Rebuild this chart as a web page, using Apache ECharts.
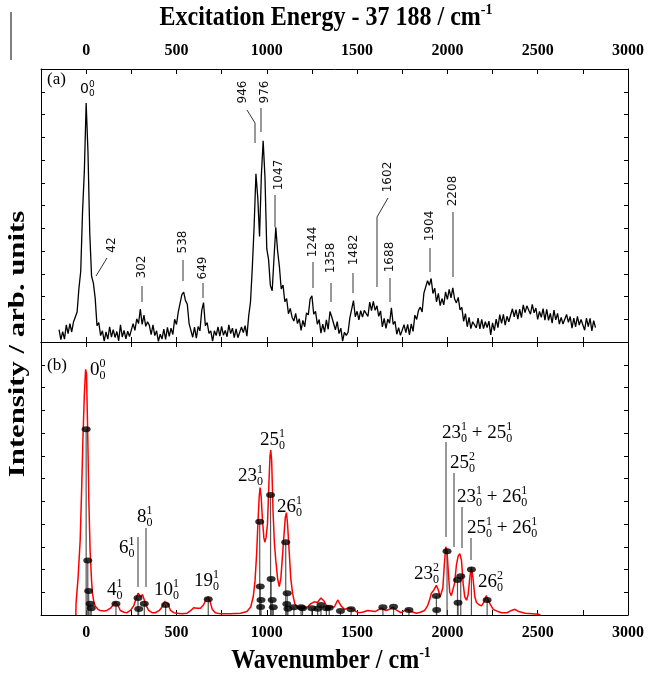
<!DOCTYPE html>
<html lang="en" style="height: 100%">
<head>
  <meta charset="utf-8">
</head>
<body style="height: 100%; margin: 0; background: #fff">
  <div id="container" style="width: 649px; height: 673px"></div>

  <script type="text/javascript" src="https://cdn.jsdelivr.net/npm/echarts@6/dist/echarts.min.js"></script>

  <script type="text/javascript">
    // (a) experimental REMPI spectrum, read every 10 cm-1 starting at -150
    var expStart = -150;
    var expStep = 10;
    var expInt = [
      5.4, 1.0, 4.6, 1.3, 7.5, 3.7, 8.1, 4.4, 8.8, 8.9,
      13.2, 23.6, 31.1, 57.2, 75.1, 105.0, 83.7, 47.8, 28.9, 25.9,
      19.3, 7.2, 8.5, 2.8, 4.9, 0.4, 4.4, 1.3, 6.7, 2.1,
      5.4, 2.0, 4.6, 0.5, 7.5, 2.2, 5.1, 1.4, 4.8, 2.4,
      3.2, 8.1, 5.1, 10.2, 8.1, 14.5, 7.7, 11.8, 6.9, 8.9,
      7.3, 3.2, 7.5, 2.8, 4.9, 0.3, 3.4, 1.3, 5.7, 1.1,
      6.4, 2.5, 6.1, 3.3, 10.0, 7.7, 13.1, 12.4, 20.8, 21.9,
      18.2, 16.6, 8.1, 8.2, 2.1, 6.5, 1.7, 6.8, 4.9, 13.9,
      17.3, 7.2, 8.5, 3.8, 4.9, 0.4, 4.9, 2.8, 6.7, 2.6,
      6.9, 3.0, 5.1, 2.3, 7.5, 3.7, 6.1, 1.9, 5.8, 1.9,
      2.7, 6.6, 4.1, 7.2, 2.6, 11.5, 17.7, 32.8, 50.9, 73.9,
      63.7, 46.4, 73.2, 88.4, 72.5, 41.0, 36.2, 24.8, 22.5, 36.9,
      50.4, 40.0, 33.1, 23.3, 25.0, 17.7, 19.1, 12.4, 14.8, 10.9,
      9.2, 12.6, 8.1, 10.2, 5.1, 9.5, 6.7, 12.8, 11.9, 18.9,
      20.3, 12.2, 13.5, 7.8, 9.9, 3.9, 7.9, 4.3, 9.7, 5.6,
      13.4, 11.0, 11.1, 5.3, 9.0, 3.7, 6.1, 0.4, 4.3, 2.9,
      4.2, 10.6, 10.1, 18.2, 11.1, 13.5, 9.7, 13.8, 10.9, 13.9,
      14.3, 11.2, 17.5, 13.8, 17.9, 13.9, 15.9, 11.3, 13.7, 6.6,
      10.4, 6.0, 10.1, 8.3, 15.0, 7.7, 9.1, 3.4, 6.3, 2.9,
      3.2, 7.6, 4.1, 7.7, 3.1, 8.0, 4.7, 11.8, 9.9, 13.9,
      15.3, 13.2, 21.5, 20.8, 26.9, 24.9, 27.9, 21.3, 23.7, 17.6,
      21.4, 16.0, 19.1, 16.3, 22.0, 18.7, 23.1, 19.4, 23.8, 18.9,
      17.2, 19.6, 14.1, 15.2, 9.1, 12.5, 6.7, 10.8, 5.9, 8.9,
      9.3, 6.2, 10.5, 5.8, 9.9, 5.9, 8.9, 6.3, 9.2, 3.1,
      8.4, 5.0, 10.1, 6.3, 12.0, 8.2, 12.1, 7.4, 11.3, 8.9,
      9.2, 14.6, 11.1, 14.2, 10.1, 14.5, 10.7, 16.3, 12.9, 15.9,
      16.3, 12.2, 16.5, 12.8, 14.9, 9.9, 13.4, 10.8, 14.7, 9.6,
      14.4, 9.5, 12.6, 8.3, 14.0, 9.7, 12.6, 7.9, 10.8, 7.9,
      8.2, 12.1, 8.6, 11.2, 6.1, 10.5, 6.7, 11.3, 7.4, 9.9,
      9.3, 5.2, 10.5, 6.8, 10.4, 4.9, 9.4, 6.3
    ];

    // (b) simulated spectrum: convolved envelope [wavenumber, intensity]
    var simCurve = [
      [-57, 0], [-56, 5], [-45, 16], [-33, 33], [-25, 55], [-18, 77], [-10, 97], [-3, 108],
      [2, 106], [9, 78], [15, 50], [22, 28], [30, 15], [35, 9.5], [42, 6], [50, 4], [65, 2.5],
      [78, 2], [100, 1.8], [115, 2], [135, 3], [150, 4.5], [160, 5.8], [167, 6], [175, 4.5],
      [189, 2], [210, 1.2], [226, 1], [245, 2], [263, 4], [278, 7.5], [287, 9.6], [295, 9],
      [303, 8], [312, 9], [320, 8.5], [333, 4], [346, 2], [365, 1], [383, 1], [405, 2],
      [420, 3.5], [435, 6], [443, 6.5], [452, 5], [467, 2], [485, 1], [504, 0.8], [530, 0.5],
      [559, 0.8], [580, 2], [595, 3.2], [605, 3.5], [615, 3], [633, 3], [650, 4.5], [665, 7],
      [676, 8], [686, 6], [698, 2.5], [715, 1], [744, 0.5], [800, 0.5], [855, 0.8], [890, 1.5],
      [911, 3.5], [925, 8], [935, 15], [944, 27], [952, 42], [958, 52], [963, 56], [969, 52],
      [976, 42], [984, 34], [989, 32], [996, 34], [1004, 40], [1012, 58], [1018, 70],
      [1022, 72.5], [1027, 68], [1035, 45], [1042, 32], [1050, 24], [1060, 16], [1069, 12.5],
      [1078, 16], [1087, 26], [1096, 36], [1103, 43], [1109, 45], [1115, 40], [1124, 28],
      [1133, 16], [1143, 9.5], [1155, 5], [1170, 3.5], [1189, 3], [1207, 3], [1225, 3.5],
      [1244, 5], [1263, 5.8], [1280, 5.5], [1300, 7.5], [1318, 6], [1328, 4.5], [1345, 3.5],
      [1374, 3.5], [1393, 6.6], [1411, 4], [1430, 2.5], [1450, 3], [1467, 3], [1485, 2],
      [1504, 1], [1530, 1.2], [1559, 2], [1600, 1.5], [1633, 3], [1660, 2], [1680, 2.5],
      [1698, 3.5], [1720, 2], [1744, 1], [1765, 2], [1781, 2.5], [1800, 1.5], [1828, 0.8],
      [1850, 1.2], [1874, 2], [1890, 4], [1903, 7], [1911, 9.5], [1925, 11], [1939, 13],
      [1950, 11], [1960, 8], [1967, 7.5], [1975, 12], [1983, 22], [1991, 30], [1998, 28],
      [2006, 18], [2013, 10], [2022, 8.5], [2031, 8], [2040, 14], [2050, 22], [2060, 26],
      [2069, 27], [2078, 24], [2087, 14], [2096, 8], [2106, 6.5], [2115, 9], [2125, 17],
      [2133, 21], [2142, 16], [2152, 8], [2161, 5.5], [2175, 4.5], [2189, 4], [2205, 6],
      [2215, 8.5], [2225, 8], [2235, 5], [2254, 2.5], [2280, 1.5], [2300, 1], [2330, 1],
      [2355, 2], [2374, 2.5], [2395, 1.5], [2430, 0.8], [2470, 0.6], [2504, 0.3], [2515, 0]
    ];

    // (b) stick spectrum [wavenumber, intensity]
    var sticks = [
      [0, 81.7], [9, 24], [14, 10.5], [22, 5], [28, 3], [165, 5], [287, 7.5], [291, 2.6],
      [322, 5], [440, 4.4], [676, 6.9], [961, 41], [964, 12.5], [968, 6.6], [966, 3.5],
      [1021, 52.7], [1024, 15.8], [1030, 6.6], [1036, 3.4], [1105, 32], [1113, 9.6],
      [1111, 4.8], [1117, 2.8], [1150, 3.4], [1190, 3.4], [1198, 3], [1250, 3], [1282, 2.8],
      [1300, 4.4], [1330, 3], [1346, 3.2], [1408, 1.8], [1467, 2.5], [1643, 3.4], [1702, 3.6],
      [1787, 2.2], [1939, 8.4], [1941, 2.2], [1998, 28], [2056, 15.4], [2059, 5.4],
      [2074, 17], [2133, 20], [2220, 6.6]
    ];

    var xTickLabels = [0, 500, 1000, 1500, 2000, 2500, 3000];
    var topTitle = '{t|Excitation Energy - 37 188 / cm}{s|-1}';
    var bottomTitle = '{t|Wavenumber / cm}{s|-1}';
    var yTitle = 'Intensity / arb. units';

    // peak labels of (a): text, label centre, leader line
    var peakLabelsA = [
      ['42', 112, 245, [[107, 258], [96, 276]]],
      ['302', 142, 267, [[142, 286], [142, 302]]],
      ['538', 183, 242, [[183, 260], [183, 281]]],
      ['649', 203, 268, [[203, 283], [203, 298]]],
      ['946', 243, 92, [[247, 110], [255, 123], [255, 143]]],
      ['976', 265, 92, [[261, 108], [261, 132]]],
      ['1047', 279, 175, [[275, 195], [275, 227]]],
      ['1244', 313, 242, [[313, 262], [313, 288]]],
      ['1358', 331, 258, [[331, 283], [331, 302]]],
      ['1482', 354, 250, [[353, 273], [353, 293]]],
      ['1602', 388, 177, [[388, 198], [377, 217], [377, 287]]],
      ['1688', 390, 257, [[390, 278], [390, 302]]],
      ['1904', 430, 226, [[430, 248], [430, 272]]],
      ['2208', 453, 191, [[453, 212], [453, 277]]]
    ];

    // band assignments of (b): [base, sup, sub] parts, left, centre y
    var bandLabelsB = [
      [[['0', '0', '0']], 90, 370],
      [[['4', '1', '0']], 107, 590],
      [[['6', '1', '0']], 119, 548],
      [[['8', '1', '0']], 137, 517],
      [[['10', '1', '0']], 154, 590],
      [[['19', '1', '0']], 194, 581],
      [[['23', '1', '0']], 238, 476],
      [[['25', '1', '0']], 260, 440],
      [[['26', '1', '0']], 277, 507],
      [[['23', '1', '0'], [' + 25', '1', '0']], 442, 433],
      [[['25', '2', '0']], 450, 463],
      [[['23', '1', '0'], [' + 26', '1', '0']], 457, 497],
      [[['25', '1', '0'], [' + 26', '1', '0']], 467, 528],
      [[['23', '2', '0']], 414, 574],
      [[['26', '2', '0']], 478, 582]
    ];
    var leadersB = [
      [[138, 537], [138, 587]],
      [[146, 528], [146, 587]],
      [[446, 442], [446, 537]],
      [[454, 473], [454, 547]],
      [[462, 507], [462, 548]],
      [[471, 538], [471, 560]]
    ];

    var SERIF = "'Liberation Serif', 'Times New Roman', serif";
    var SANS = "'DejaVu Sans', Verdana, sans-serif";

    var expData = expInt.map(function (v, i) {
      return [expStart + i * expStep, v];
    });

    var meas = document.createElement('canvas').getContext('2d');
    function textW(str, font) {
      meas.font = font;
      return meas.measureText(str).width;
    }

    // base text followed by stacked superscript / subscript
    function scripted(parts, left, cy, size, family, out) {
      var small = Math.round(size * 0.62);
      var bf = size + 'px ' + family;
      var sf = small + 'px ' + family;
      var x = left;
      parts.forEach(function (p) {
        out.push({ type: 'text', x: x, y: cy, style: { text: p[0], font: bf, fill: '#000', align: 'left', verticalAlign: 'middle' } });
        x += textW(p[0], bf);
        out.push({ type: 'text', x: x, y: cy - size * 0.3, style: { text: p[1], font: sf, fill: '#000', align: 'left', verticalAlign: 'middle' } });
        out.push({ type: 'text', x: x, y: cy + size * 0.3, style: { text: p[2], font: sf, fill: '#000', align: 'left', verticalAlign: 'middle' } });
        x += Math.max(textW(p[1], sf), textW(p[2], sf));
      });
    }

    var titleRich = {
      t: { fontFamily: SERIF, fontWeight: 'bold', fontSize: 24, fill: '#000', lineHeight: 28 },
      s: { fontFamily: SERIF, fontWeight: 'bold', fontSize: 14, fill: '#000', lineHeight: 18, verticalAlign: 'top' }
    };

    var graphics = [];
    peakLabelsA.forEach(function (p) {
      graphics.push({
        type: 'text', x: p[1], y: p[2], rotation: Math.PI / 2,
        style: { text: p[0], font: '12px ' + SANS, fill: '#111', align: 'center', verticalAlign: 'middle' }
      });
      graphics.push({ type: 'polyline', shape: { points: p[3] }, style: { stroke: '#333', lineWidth: 1, fill: null } });
    });
    scripted([['0', '0', '0']], 80, 89, 14, SANS, graphics);
    bandLabelsB.forEach(function (b) {
      scripted(b[0], b[1], b[2], 19, SERIF, graphics);
    });
    leadersB.forEach(function (l) {
      graphics.push({ type: 'polyline', shape: { points: l }, style: { stroke: '#333', lineWidth: 1, fill: null } });
    });
    graphics.push({ type: 'text', x: 47, y: 80, style: { text: '(a)', font: '17px ' + SERIF, fill: '#000', align: 'left', verticalAlign: 'middle' } });
    graphics.push({ type: 'text', x: 47, y: 366, style: { text: '(b)', font: '17px ' + SERIF, fill: '#000', align: 'left', verticalAlign: 'middle' } });
    graphics.push({
      type: 'text', x: 18, y: 344, rotation: Math.PI / 2, scaleX: 1.28,
      style: { text: yTitle, font: 'bold 24px ' + SERIF, fill: '#000', align: 'center', verticalAlign: 'middle' }
    });
    graphics.push({
      type: 'text', x: 326, y: 18, scaleY: 1.1,
      style: { text: topTitle, rich: titleRich, align: 'center', verticalAlign: 'middle' }
    });
    graphics.push({
      type: 'text', x: 331, y: 661, scaleY: 1.1,
      style: { text: bottomTitle, rich: titleRich, align: 'center', verticalAlign: 'middle' }
    });
    graphics.push({ type: 'line', shape: { x1: 11, y1: 12, x2: 11, y2: 60 }, style: { stroke: '#000', lineWidth: 1 } });

    function xAxisOf(grid, pos, labels) {
      return {
        type: 'value', gridIndex: grid, position: pos, min: -250, max: 3000, interval: 250,
        axisLine: { onZero: false, lineStyle: { color: '#000', width: 1 } },
        axisTick: { inside: true, length: 5, lineStyle: { color: '#000' } },
        splitLine: { show: false },
        axisLabel: {
          show: labels, margin: 10, color: '#000', fontFamily: SERIF, fontWeight: 'bold', fontSize: 16,
          formatter: function (v) { return xTickLabels.indexOf(v) >= 0 ? String(v) : ''; }
        }
      };
    }
    function yAxisOf(grid, pos) {
      return {
        type: 'value', gridIndex: grid, position: pos, min: 0, max: 120, interval: 10,
        axisLine: { show: true, onZero: false, lineStyle: { color: '#000', width: 1 } },
        axisTick: { show: true, inside: true, length: 4, lineStyle: { color: '#000' } },
        axisLabel: { show: false },
        splitLine: { show: false }
      };
    }

    var myChart = echarts.init(document.getElementById('container'), null, { renderer: 'canvas' });
    var option = {
      animation: false,
      backgroundColor: '#fff',
      grid: [
        { left: 41, right: 21, top: 69, height: 273, containLabel: false, outerBoundsMode: 'none' },
        { left: 41, right: 21, top: 342, height: 273, containLabel: false, outerBoundsMode: 'none' }
      ],
      xAxis: [
        xAxisOf(0, 'top', true),
        xAxisOf(0, 'bottom', false),
        xAxisOf(1, 'top', false),
        xAxisOf(1, 'bottom', true)
      ],
      yAxis: [yAxisOf(0, 'left'), yAxisOf(0, 'right'), yAxisOf(1, 'left'), yAxisOf(1, 'right')],
      series: [
        {
          type: 'line', xAxisIndex: 0, yAxisIndex: 0, data: expData, showSymbol: false,
          lineStyle: { color: '#000', width: 1.3 }
        },
        {
          type: 'custom', xAxisIndex: 3, yAxisIndex: 2, data: sticks,
          encode: { x: 0, y: 1 },
          renderItem: function (params, api) {
            var top = api.coord([api.value(0), api.value(1)]);
            var bot = api.coord([api.value(0), 0]);
            return {
              type: 'line',
              shape: { x1: top[0], y1: top[1], x2: bot[0], y2: bot[1] },
              style: { stroke: '#555', lineWidth: 1.2 }
            };
          }
        },
        {
          type: 'line', xAxisIndex: 3, yAxisIndex: 2, data: simCurve, showSymbol: false,
          lineStyle: { color: '#ff0000', width: 1.5 }, z: 3
        },
        {
          type: 'scatter', xAxisIndex: 3, yAxisIndex: 2, data: sticks,
          symbol: 'circle', symbolSize: [9, 6], itemStyle: { color: '#000' }, z: 4
        }
      ],
      graphic: graphics
    };
    myChart.setOption(option);
    window.addEventListener('resize', myChart.resize);
  </script>
</body>
</html>
